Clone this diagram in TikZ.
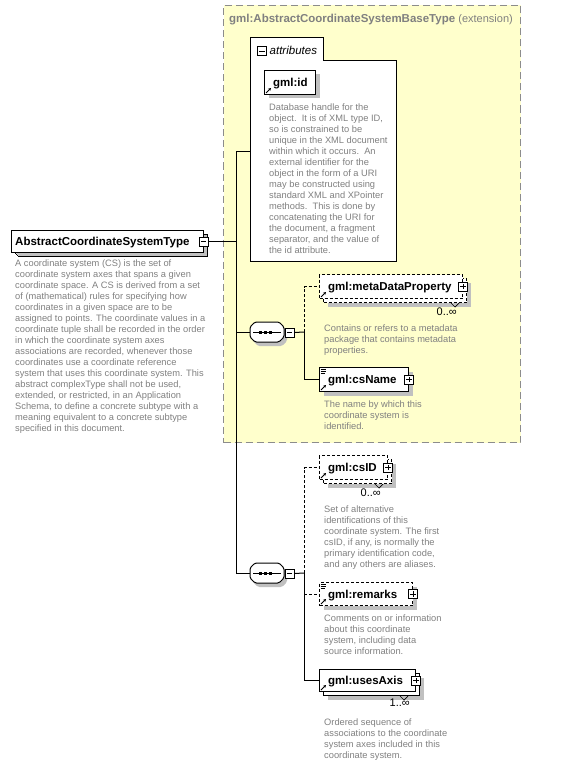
\documentclass[tikz,border=0pt]{standalone}
\usepackage{fontspec}
\setmainfont{Liberation Sans}
\usetikzlibrary{arrows.meta,shapes.misc,shadows}
\definecolor{extyellow}{HTML}{FFFFCC}
\definecolor{extborder}{HTML}{8C8C8C}
\definecolor{descgray}{HTML}{808080}
\definecolor{shadowgray}{HTML}{C0C0C0}
\newcommand\refarrow[1]{\draw[-{Stealth[length=2.8pt,width=3pt]},line width=0.8pt] ([shift={(2,-2)}]#1.south west) -- ++(5,-5);}
\newcommand\texticon[1]{\draw[line width=0.5pt] ([shift={(1.5,2)}]#1.north west) -- ++(5,0) ([shift={(1.5,4)}]#1.north west) -- ++(5,0) ([shift={(1.5,6)}]#1.north west) -- ++(4,0);}
\begin{document}
\begin{tikzpicture}[x=1pt,y=-1pt,
  conn/.style={line width=1pt,draw=black},
  optconn/.style={conn,dash pattern=on 3pt off 2pt},
  shadowed/.style={general shadow={fill=shadowgray,shadow xshift=4pt,shadow yshift=-4pt}},
  elbox/.style={shape=rectangle,draw=black,line width=1pt,fill=white,inner sep=0,anchor=north west},
  optbox/.style={elbox,dash pattern=on 3pt off 2pt},
  eltext/.style={font=\fontsize{11.5}{13}\selectfont\bfseries,inner sep=0,anchor=base west},
  desctext/.style={font=\fontsize{9.3}{11}\selectfont,text=descgray,align=left,inner sep=0,anchor=north west},
  multtext/.style={font=\fontsize{11}{12}\selectfont,inner sep=0,anchor=base east},
  togglebase/.style={shape=rectangle,draw=black,line width=0.7pt,fill=white,minimum size=9pt,inner sep=0},
  minustog/.style={togglebase,path picture={\draw[line width=0.7pt] ([xshift=1.8pt]path picture bounding box.west) -- ([xshift=-1.8pt]path picture bounding box.east);}},
  plustog/.style={togglebase,path picture={\draw[line width=0.7pt] ([xshift=1.8pt]path picture bounding box.west) -- ([xshift=-1.8pt]path picture bounding box.east) ([yshift=1.8pt]path picture bounding box.south) -- ([yshift=-1.8pt]path picture bounding box.north);}},
  notch/.style={line width=0.7pt,draw=black},
  seqsym/.pic={
    \fill[shadowgray,rounded corners=1.5pt] (-9,-6) -- (15,-6) -- (20,-1) -- (20,9) -- (15,14) -- (-9,14) -- (-14,9) -- (-14,-1) -- cycle;
    \draw[line width=1pt,fill=white,rounded corners=1.5pt] (-12,-10) -- (12,-10) -- (17,-5) -- (17,5) -- (12,10) -- (-12,10) -- (-17,5) -- (-17,-5) -- cycle;
    \draw[line width=1pt] (-14,0) -- (14,0);
    \fill (-6.7,0) +(-1.6,-1.5) rectangle +(1.6,1.5);
    \fill (-1.7,0) +(-1.6,-1.5) rectangle +(1.6,1.5);
    \fill (3.3,0) +(-1.6,-1.5) rectangle +(1.6,1.5);
    \coordinate (-west) at (-17,0);
    \node[minustog] (-tog) at (22.5,0.5) {};
  }
]
\useasboundingbox (0,0) rectangle (563,765);

% extension area
\node[shape=rectangle,draw=extborder,line width=1pt,dash pattern=on 7pt off 4pt,fill=extyellow,minimum width=297pt,minimum height=437pt,anchor=north west,inner sep=0] (ext) at (223,5) {};
\node[font=\fontsize{11.5}{13}\selectfont,text=descgray,inner sep=0,anchor=base west] (exttitle) at (229,23) {\textbf{gml:AbstractCoordinateSystemBaseType} {\fontsize{11}{13}\selectfont(extension)}};

% attributes
\draw[line width=1pt,fill=white] (250,38) -- (323,38) -- (323,61) -- (396,61) -- (396,261) -- (250,261) -- cycle;
\coordinate (attrW) at (250,151);
\node[minustog] (attrtog) at (262,51) {};
\node[font=\fontsize{11.5}{13}\selectfont\itshape,inner sep=0,anchor=base west] (attrtext) at (269.5,54.5) {attributes};
\node[elbox,shadowed,minimum width=51pt,minimum height=24pt] (gmlid) at (264,70) {};
\node[eltext] (gmlidtext) at (273,86.5) {gml:id};
\refarrow{gmlid}
\node[desctext] (iddesc) at (269,104) {Database handle for the\\object.\ \ It is of XML type ID,\\so is constrained to be\\unique in the XML document\\within which it occurs.\ \ An\\external identifier for the\\object in the form of a URI\\may be constructed using\\standard XML and XPointer\\methods.\ \ This is done by\\concatenating the URI for\\the document, a fragment\\separator, and the value of\\the id attribute.};

% main node
\draw[line width=0pt,fill=shadowgray] (19,234) -- (207,234) -- (207,256) -- (19,256) -- (15,252) -- (15,238) -- cycle;
\node[shape=chamfered rectangle,chamfered rectangle corners={north west,south west},chamfered rectangle xsep=4pt,chamfered rectangle ysep=4pt,draw=black,line width=1pt,fill=white,inner sep=0,minimum width=192pt,minimum height=22pt,anchor=west] (main) at (11,241) {};
\node[eltext] (maintext) at (15,245.5) {AbstractCoordinateSystemType};
\node[minustog] (maintog) at (203.5,241.5) {};
\node[desctext] (maindesc) at (15,260) {A coordinate system (CS) is the set of\\coordinate system axes that spans a given\\coordinate space. A CS is derived from a set\\of (mathematical) rules for specifying how\\coordinates in a given space are to be\\assigned to points. The coordinate values in a\\coordinate tuple shall be recorded in the order\\in which the coordinate system axes\\associations are recorded, whenever those\\coordinates use a coordinate reference\\system that uses this coordinate system. This\\abstract complexType shall not be used,\\extended, or restricted, in an Application\\Schema, to define a concrete subtype with a\\meaning equivalent to a concrete subtype\\specified in this document.};

% sequences
\pic (seqA) at (267,332) {seqsym};
\pic (seqB) at (267,573) {seqsym};
\coordinate (seqAj) at (304,332);
\coordinate (seqBj) at (304,573);
\coordinate (vtop) at (236,151);
\coordinate (vbot) at (236,573);

% elements
\node[optbox,shadowed,minimum width=143pt,minimum height=24pt] (metaback) at (323,278) {};
\node[optbox,minimum width=143pt,minimum height=24pt] (meta) at (319,274) {};
\node[eltext] (metatext) at (328,290.5) {gml:metaDataProperty};
\node[plustog] (metatog) at (meta.east) {};
\refarrow{meta}
\draw[notch] ([xshift=-16pt]metaback.south east) -- ++(4,4) -- ++(4,-4);
\node[multtext] (metamult) at (457,315.5) {0..∞};
\node[desctext] (metadesc) at (324,325) {Contains or refers to a metadata\\package that contains metadata\\properties.};

\node[elbox,shadowed,minimum width=89pt,minimum height=24pt] (csname) at (319,367) {};
\node[eltext] (csnametext) at (328,383.5) {gml:csName};
\node[plustog] (csnametog) at (csname.east) {};
\texticon{csname}
\refarrow{csname}
\node[desctext] (csnamedesc) at (324,401) {The name by which this\\coordinate system is\\identified.};

\node[optbox,shadowed,minimum width=68pt,minimum height=24pt] (csidback) at (323,459) {};
\node[optbox,minimum width=68pt,minimum height=24pt] (csid) at (319,455) {};
\node[eltext] (csidtext) at (328,471.5) {gml:csID};
\node[plustog] (csidtog) at (csid.east) {};
\refarrow{csid}
\draw[notch] ([xshift=-17pt]csidback.south east) -- ++(4,4) -- ++(4,-4);
\node[multtext] (csidmult) at (381,496.5) {0..∞};
\node[desctext] (csiddesc) at (324,506) {Set of alternative\\identifications of this\\coordinate system. The first\\csID, if any, is normally the\\primary identification code,\\and any others are aliases.};

\node[optbox,shadowed,minimum width=93pt,minimum height=23pt] (remarks) at (319,582) {};
\node[eltext] (remarkstext) at (328,598) {gml:remarks};
\node[plustog] (remarkstog) at (remarks.east) {};
\texticon{remarks}
\refarrow{remarks}
\node[desctext] (remarksdesc) at (324,615) {Comments on or information\\about this coordinate\\system, including data\\source information.};

\node[elbox,shadowed,minimum width=96pt,minimum height=22pt] (usesback) at (323,673) {};
\node[elbox,minimum width=96pt,minimum height=22pt] (uses) at (319,669) {};
\node[eltext] (usestext) at (328,684.5) {gml:usesAxis};
\node[plustog] (usestog) at (uses.east) {};
\refarrow{uses}
\draw[notch] ([xshift=-20pt]usesback.south east) -- ++(4,4) -- ++(4,-4);
\node[multtext] (usesmult) at (410,706.5) {1..∞};
\node[desctext] (usesdesc) at (324,718.7) {Ordered sequence of\\associations to the coordinate\\system axes included in this\\coordinate system.};

% connectors
\draw[conn] (maintog.east) -- (maintog.east -| vtop);
\draw[conn] (attrW) -- (vtop) -- (vbot) -- (seqB-west);
\draw[conn] (vtop |- seqA-west) -- (seqA-west);
\draw[conn] (seqA-tog.east) -- (seqAj);
\draw[optconn] (seqAj) -- (seqAj |- meta.west) -- (meta.west);
\draw[conn] (seqAj) -- (seqAj |- csname.west) -- (csname.west);
\draw[conn] (seqB-tog.east) -- (seqBj);
\draw[optconn] (seqBj) -- (seqBj |- csid.west) -- (csid.west);
\draw[conn] (seqBj) -- (seqBj |- uses.west) -- (uses.west);
\draw[optconn] (seqBj |- remarks.west) -- (remarks.west);
\end{tikzpicture}
\end{document}
